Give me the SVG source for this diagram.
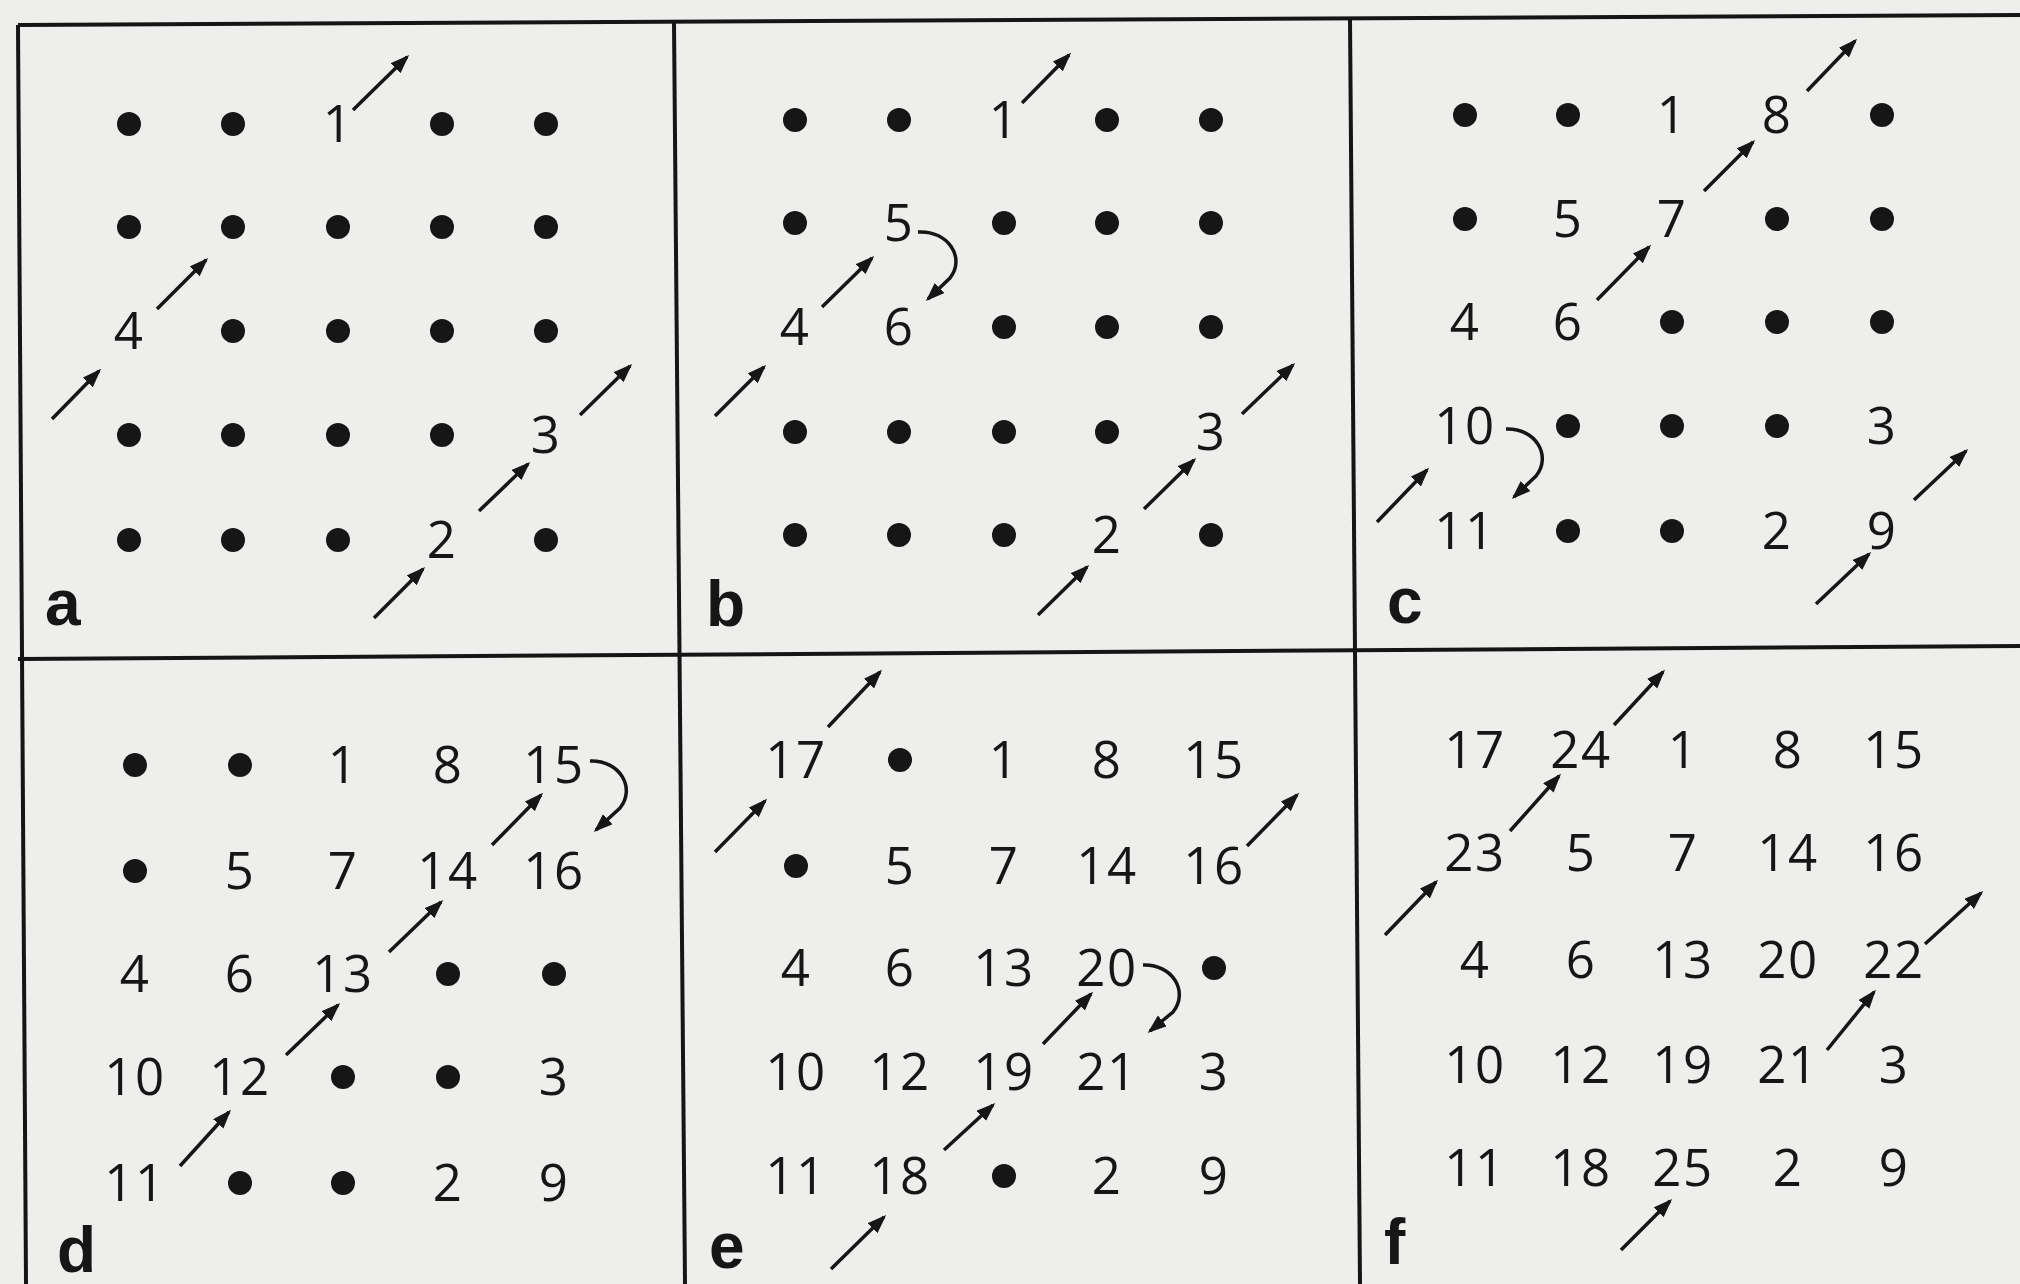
<svg xmlns="http://www.w3.org/2000/svg" width="2020" height="1284" viewBox="0 0 2020 1284">
<defs>
<style>
.bg{fill:#eeeeec}
.frame{stroke:#151515;stroke-width:4;fill:none}
.dot{fill:#161616}
.n{font-family:"Open Sans","DejaVu Sans","Liberation Sans",sans-serif;font-size:51px;fill:#161616;text-anchor:middle;letter-spacing:1.5px}
.lbl{font-family:"Liberation Sans","DejaVu Sans",sans-serif;font-size:64px;font-weight:bold;fill:#161616}
.arr{stroke:#161616;stroke-width:3.5;fill:none;marker-end:url(#ah)}
</style>
<marker id="ah" markerUnits="userSpaceOnUse" markerWidth="20" markerHeight="16" refX="16" refY="7" orient="auto">
<path d="M0,0 L19,7 L0,14 z" fill="#161616"/>
</marker>
</defs>
<rect class="bg" x="0" y="0" width="2020" height="1284"/>
<g id="frame">
<line class="frame" x1="18" y1="25" x2="2020" y2="15"/>
<line class="frame" x1="18" y1="25" x2="26" y2="1284"/>
<line class="frame" x1="674" y1="22" x2="685" y2="1284"/>
<line class="frame" x1="1350" y1="19" x2="1360" y2="1284"/>
<line class="frame" x1="18" y1="659" x2="2020" y2="646"/>
</g>
<g id="panel-a">
<g class="dots">
<circle class="dot" cx="129" cy="124" r="12"/><circle class="dot" cx="233" cy="124" r="12"/><circle class="dot" cx="442" cy="124" r="12"/><circle class="dot" cx="546" cy="124" r="12"/>
<circle class="dot" cx="129" cy="227" r="12"/><circle class="dot" cx="233" cy="227" r="12"/><circle class="dot" cx="338" cy="227" r="12"/><circle class="dot" cx="442" cy="227" r="12"/><circle class="dot" cx="546" cy="227" r="12"/>
<circle class="dot" cx="233" cy="331" r="12"/><circle class="dot" cx="338" cy="331" r="12"/><circle class="dot" cx="442" cy="331" r="12"/><circle class="dot" cx="546" cy="331" r="12"/>
<circle class="dot" cx="129" cy="435" r="12"/><circle class="dot" cx="233" cy="435" r="12"/><circle class="dot" cx="338" cy="435" r="12"/><circle class="dot" cx="442" cy="435" r="12"/>
<circle class="dot" cx="129" cy="540" r="12"/><circle class="dot" cx="233" cy="540" r="12"/><circle class="dot" cx="338" cy="540" r="12"/><circle class="dot" cx="546" cy="540" r="12"/>
</g>
<text class="n" x="338" y="142">1</text>
<text class="n" x="129" y="349">4</text>
<text class="n" x="546" y="453">3</text>
<text class="n" x="442" y="558">2</text>
<text class="lbl" x="45" y="625">a</text>
</g>
<g id="panel-b">
<g class="dots">
<circle class="dot" cx="795" cy="120" r="12"/><circle class="dot" cx="899" cy="120" r="12"/><circle class="dot" cx="1107" cy="120" r="12"/><circle class="dot" cx="1211" cy="120" r="12"/>
<circle class="dot" cx="795" cy="223" r="12"/><circle class="dot" cx="1004" cy="223" r="12"/><circle class="dot" cx="1107" cy="223" r="12"/><circle class="dot" cx="1211" cy="223" r="12"/>
<circle class="dot" cx="1004" cy="327" r="12"/><circle class="dot" cx="1107" cy="327" r="12"/><circle class="dot" cx="1211" cy="327" r="12"/>
<circle class="dot" cx="795" cy="432" r="12"/><circle class="dot" cx="899" cy="432" r="12"/><circle class="dot" cx="1004" cy="432" r="12"/><circle class="dot" cx="1107" cy="432" r="12"/>
<circle class="dot" cx="795" cy="535" r="12"/><circle class="dot" cx="899" cy="535" r="12"/><circle class="dot" cx="1004" cy="535" r="12"/><circle class="dot" cx="1211" cy="535" r="12"/>
</g>
<text class="n" x="1004" y="138">1</text>
<text class="n" x="899" y="241">5</text>
<text class="n" x="795" y="345">4</text>
<text class="n" x="899" y="345">6</text>
<text class="n" x="1211" y="450">3</text>
<text class="n" x="1107" y="553">2</text>
<text class="lbl" x="706" y="626">b</text>
</g>
<g id="panel-c">
<g class="dots">
<circle class="dot" cx="1465" cy="115" r="12"/><circle class="dot" cx="1568" cy="115" r="12"/><circle class="dot" cx="1882" cy="115" r="12"/>
<circle class="dot" cx="1465" cy="219" r="12"/><circle class="dot" cx="1777" cy="219" r="12"/><circle class="dot" cx="1882" cy="219" r="12"/>
<circle class="dot" cx="1672" cy="322" r="12"/><circle class="dot" cx="1777" cy="322" r="12"/><circle class="dot" cx="1882" cy="322" r="12"/>
<circle class="dot" cx="1568" cy="426" r="12"/><circle class="dot" cx="1672" cy="426" r="12"/><circle class="dot" cx="1777" cy="426" r="12"/>
<circle class="dot" cx="1568" cy="531" r="12"/><circle class="dot" cx="1672" cy="531" r="12"/>
</g>
<text class="n" x="1672" y="133">1</text>
<text class="n" x="1777" y="133">8</text>
<text class="n" x="1568" y="237">5</text>
<text class="n" x="1672" y="237">7</text>
<text class="n" x="1465" y="340">4</text>
<text class="n" x="1568" y="340">6</text>
<text class="n" x="1465" y="444">10</text>
<text class="n" x="1882" y="444">3</text>
<text class="n" x="1465" y="549">11</text>
<text class="n" x="1777" y="549">2</text>
<text class="n" x="1882" y="549">9</text>
<text class="lbl" x="1387" y="623">c</text>
</g>
<g id="panel-d">
<g class="dots">
<circle class="dot" cx="135" cy="765" r="12"/><circle class="dot" cx="240" cy="765" r="12"/>
<circle class="dot" cx="135" cy="871" r="12"/>
<circle class="dot" cx="448" cy="974" r="12"/><circle class="dot" cx="554" cy="974" r="12"/>
<circle class="dot" cx="343" cy="1077" r="12"/><circle class="dot" cx="448" cy="1077" r="12"/>
<circle class="dot" cx="240" cy="1183" r="12"/><circle class="dot" cx="343" cy="1183" r="12"/>
</g>
<text class="n" x="343" y="783">1</text>
<text class="n" x="448" y="783">8</text>
<text class="n" x="554" y="783">15</text>
<text class="n" x="240" y="889">5</text>
<text class="n" x="343" y="889">7</text>
<text class="n" x="448" y="889">14</text>
<text class="n" x="554" y="889">16</text>
<text class="n" x="135" y="992">4</text>
<text class="n" x="240" y="992">6</text>
<text class="n" x="343" y="992">13</text>
<text class="n" x="135" y="1095">10</text>
<text class="n" x="240" y="1095">12</text>
<text class="n" x="554" y="1095">3</text>
<text class="n" x="135" y="1201">11</text>
<text class="n" x="448" y="1201">2</text>
<text class="n" x="554" y="1201">9</text>
<text class="lbl" x="57" y="1272">d</text>
</g>
<g id="panel-e">
<g class="dots">
<circle class="dot" cx="900" cy="760" r="12"/>
<circle class="dot" cx="796" cy="866" r="12"/>
<circle class="dot" cx="1214" cy="968" r="12"/>
<circle class="dot" cx="1004" cy="1176" r="12"/>
</g>
<text class="n" x="796" y="778">17</text>
<text class="n" x="1004" y="778">1</text>
<text class="n" x="1107" y="778">8</text>
<text class="n" x="1214" y="778">15</text>
<text class="n" x="900" y="884">5</text>
<text class="n" x="1004" y="884">7</text>
<text class="n" x="1107" y="884">14</text>
<text class="n" x="1214" y="884">16</text>
<text class="n" x="796" y="986">4</text>
<text class="n" x="900" y="986">6</text>
<text class="n" x="1004" y="986">13</text>
<text class="n" x="1107" y="986">20</text>
<text class="n" x="796" y="1090">10</text>
<text class="n" x="900" y="1090">12</text>
<text class="n" x="1004" y="1090">19</text>
<text class="n" x="1107" y="1090">21</text>
<text class="n" x="1214" y="1090">3</text>
<text class="n" x="796" y="1194">11</text>
<text class="n" x="900" y="1194">18</text>
<text class="n" x="1107" y="1194">2</text>
<text class="n" x="1214" y="1194">9</text>
<text class="lbl" x="709" y="1268">e</text>
</g>
<g id="panel-f">
<text class="n" x="1475" y="768">17</text>
<text class="n" x="1581" y="768">24</text>
<text class="n" x="1683" y="768">1</text>
<text class="n" x="1788" y="768">8</text>
<text class="n" x="1894" y="768">15</text>
<text class="n" x="1475" y="871">23</text>
<text class="n" x="1581" y="871">5</text>
<text class="n" x="1683" y="871">7</text>
<text class="n" x="1788" y="871">14</text>
<text class="n" x="1894" y="871">16</text>
<text class="n" x="1475" y="978">4</text>
<text class="n" x="1581" y="978">6</text>
<text class="n" x="1683" y="978">13</text>
<text class="n" x="1788" y="978">20</text>
<text class="n" x="1894" y="978">22</text>
<text class="n" x="1475" y="1083">10</text>
<text class="n" x="1581" y="1083">12</text>
<text class="n" x="1683" y="1083">19</text>
<text class="n" x="1788" y="1083">21</text>
<text class="n" x="1894" y="1083">3</text>
<text class="n" x="1475" y="1186">11</text>
<text class="n" x="1581" y="1186">18</text>
<text class="n" x="1683" y="1186">25</text>
<text class="n" x="1788" y="1186">2</text>
<text class="n" x="1894" y="1186">9</text>
<text class="lbl" x="1384" y="1264">f</text>
</g>
<g id="connectors">
<line class="arr" x1="353" y1="110" x2="407" y2="57"/>
<line class="arr" x1="157" y1="309" x2="206" y2="260"/>
<line class="arr" x1="52" y1="419" x2="99" y2="371"/>
<line class="arr" x1="479" y1="511" x2="528" y2="464"/>
<line class="arr" x1="374" y1="618" x2="423" y2="569"/>
<line class="arr" x1="580" y1="415" x2="630" y2="366"/>

<line class="arr" x1="1022" y1="103" x2="1069" y2="55"/>
<line class="arr" x1="822" y1="307" x2="872" y2="258"/>
<line class="arr" x1="715" y1="416" x2="764" y2="367"/>
<line class="arr" x1="1144" y1="509" x2="1194" y2="460"/>
<line class="arr" x1="1038" y1="615" x2="1087" y2="567"/>
<line class="arr" x1="1242" y1="414" x2="1293" y2="365"/>
<path class="arr" d="M918,232 C948,230 966,258 950,278 L928,299"/>

<line class="arr" x1="1807" y1="91" x2="1855" y2="41"/>
<line class="arr" x1="1704" y1="191" x2="1753" y2="142"/>
<line class="arr" x1="1597" y1="300" x2="1649" y2="247"/>
<line class="arr" x1="1377" y1="522" x2="1427" y2="470"/>
<line class="arr" x1="1914" y1="500" x2="1966" y2="451"/>
<line class="arr" x1="1816" y1="604" x2="1869" y2="554"/>
<path class="arr" d="M1506,429 C1536,428 1552,456 1536,476 L1514,497"/>

<line class="arr" x1="180" y1="1166" x2="229" y2="1112"/>
<line class="arr" x1="286" y1="1055" x2="338" y2="1005"/>
<line class="arr" x1="389" y1="952" x2="441" y2="902"/>
<line class="arr" x1="492" y1="845" x2="541" y2="795"/>
<path class="arr" d="M590,761 C620,760 636,788 620,808 L596,830"/>

<line class="arr" x1="828" y1="727" x2="880" y2="672"/>
<line class="arr" x1="715" y1="852" x2="765" y2="801"/>
<line class="arr" x1="1247" y1="846" x2="1297" y2="795"/>
<line class="arr" x1="1043" y1="1044" x2="1091" y2="994"/>
<line class="arr" x1="944" y1="1150" x2="993" y2="1105"/>
<line class="arr" x1="831" y1="1269" x2="884" y2="1217"/>
<path class="arr" d="M1143,965 C1173,964 1189,992 1173,1012 L1150,1031"/>

<line class="arr" x1="1614" y1="725" x2="1663" y2="672"/>
<line class="arr" x1="1510" y1="831" x2="1559" y2="776"/>
<line class="arr" x1="1385" y1="935" x2="1436" y2="882"/>
<line class="arr" x1="1925" y1="944" x2="1981" y2="893"/>
<line class="arr" x1="1827" y1="1050" x2="1874" y2="992"/>
<line class="arr" x1="1621" y1="1250" x2="1670" y2="1201"/>
</g>
</svg>
